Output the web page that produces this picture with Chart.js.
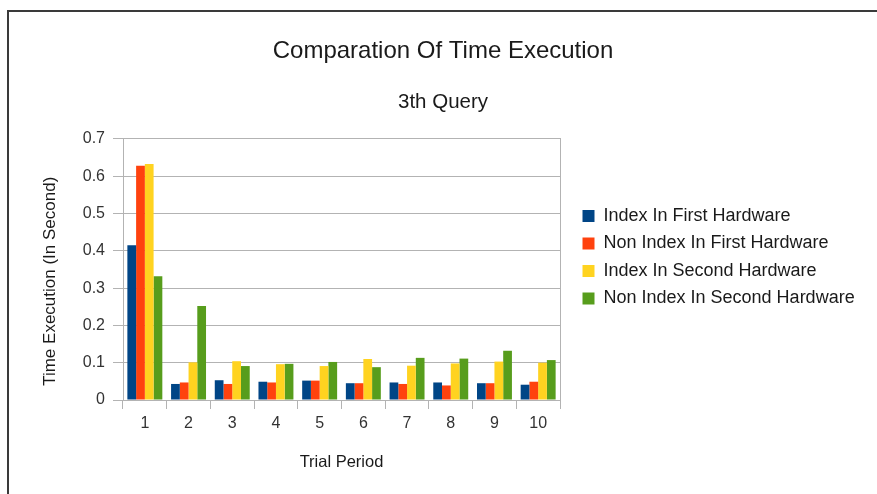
<!DOCTYPE html>
<html>
<head>
<meta charset="utf-8">
<script src="https://cdn.jsdelivr.net/npm/chart.js@4.4.1/dist/chart.umd.min.js"></script>
<style>
  html, body { margin: 0; padding: 0; background: #fff; }
  #frame { position: absolute; left: 7px; top: 10px; width: 870px; height: 484px;
           border-top: 2px solid #3a3a3a; border-left: 2px solid #3a3a3a; }
  #wrap { position: absolute; left: 0; top: 0; width: 868px; height: 482px; }
</style>
</head>
<body>
<div id="frame"><div id="wrap"><canvas id="c"></canvas></div></div>
<script>
const categories = ['1', '2', '3', '4', '5', '6', '7', '8', '9', '10'];
const seriesNames = ['Index In First Hardware', 'Non Index In First Hardware', 'Index In Second Hardware', 'Non Index In Second Hardware'];
const indexFirst = [0.415, 0.043, 0.053, 0.049, 0.052, 0.045, 0.047, 0.047, 0.045, 0.041];
const nonIndexFirst = [0.628, 0.047, 0.043, 0.047, 0.052, 0.045, 0.043, 0.039, 0.045, 0.049];
const indexSecond = [0.633, 0.101, 0.104, 0.096, 0.091, 0.110, 0.092, 0.098, 0.103, 0.100];
const nonIndexSecond = [0.332, 0.252, 0.091, 0.097, 0.102, 0.088, 0.113, 0.111, 0.132, 0.107];
const yTickLabels = ['0', '0.1', '0.2', '0.3', '0.4', '0.5', '0.6', '0.7'];
const colors = ['#004586', '#ff420e', '#ffd320', '#579d1c'];

const FONT = '"Liberation Sans", Arial, sans-serif';
const GRID = '#b3b3b3';

const layoutFix = {
  id: 'layoutFix',
  beforeLayout(chart) {
    const lg = chart.legend;
    if (lg && !lg._patched) {
      const orig = lg.fit;
      lg.fit = function () { orig.call(this); this.width = 304; };
      lg._patched = true;
    }
  }
};

new Chart(document.getElementById('c'), {
  type: 'bar',
  data: {
    labels: categories,
    datasets: [indexFirst, nonIndexFirst, indexSecond, nonIndexSecond].map((d, i) => ({
      label: seriesNames[i],
      data: d,
      backgroundColor: colors[i],
      borderWidth: 0,
      categoryPercentage: 0.8,
      barPercentage: 1.0
    }))
  },
  plugins: [layoutFix],
  options: {
    responsive: true,
    maintainAspectRatio: false,
    animation: false,
    layout: { padding: { left: 0, right: 0, top: 0, bottom: 0 } },
    plugins: {
      title: {
        display: true,
        text: 'Comparation Of Time Execution',
        color: '#1a1a1a',
        font: { family: FONT, size: 24, weight: 'normal' },
        padding: { top: 25, bottom: 0 }
      },
      subtitle: {
        display: true,
        text: '3th Query',
        color: '#1a1a1a',
        font: { family: FONT, size: 20.5, weight: 'normal' },
        padding: { top: 24, bottom: 24.5 }
      },
      legend: {
        position: 'right',
        align: 'start',
        title: { display: true, text: ' ', font: { size: 10 }, padding: { top: 173.5, bottom: 0 } },
        labels: {
          boxWidth: 12,
          boxHeight: 12,
          padding: 9.5,
          color: '#1a1a1a',
          font: { family: FONT, size: 18 }
        }
      },
      tooltip: { enabled: false }
    },
    scales: {
      x: {
        grid: { display: true, offset: true, drawOnChartArea: false, color: GRID, tickLength: 9 },
        border: { display: true, color: GRID },
        ticks: { color: '#333', font: { family: FONT, size: 16 }, padding: 5 },
        title: {
          display: true, text: 'Trial Period', color: '#1a1a1a',
          font: { family: FONT, size: 16.5 }, padding: { top: 4, bottom: 22 }
        },
        afterFit(s) { s.height = 94; }
      },
      y: {
        min: 0, max: 0.7,
        grid: { color: GRID, tickLength: 10 },
        border: { display: true, color: GRID },
        ticks: {
          stepSize: 0.1, color: '#333', font: { family: FONT, size: 16 }, padding: 8,
          callback: (v, i) => yTickLabels[i]
        },
        title: {
          display: true, text: '   Time Execution (In Second)', color: '#1a1a1a', align: 'start',
          font: { family: FONT, size: 17 }, padding: { top: 31, bottom: 0 }
        },
        afterFit(s) { s.width = 114; }
      },
      y2: {
        position: 'right',
        min: 0, max: 0.7,
        grid: { drawOnChartArea: false, drawTicks: false },
        border: { display: true, color: GRID },
        ticks: { display: false },
        afterFit(s) { s.width = 13; }
      }
    }
  }
});
</script>
</body>
</html>
